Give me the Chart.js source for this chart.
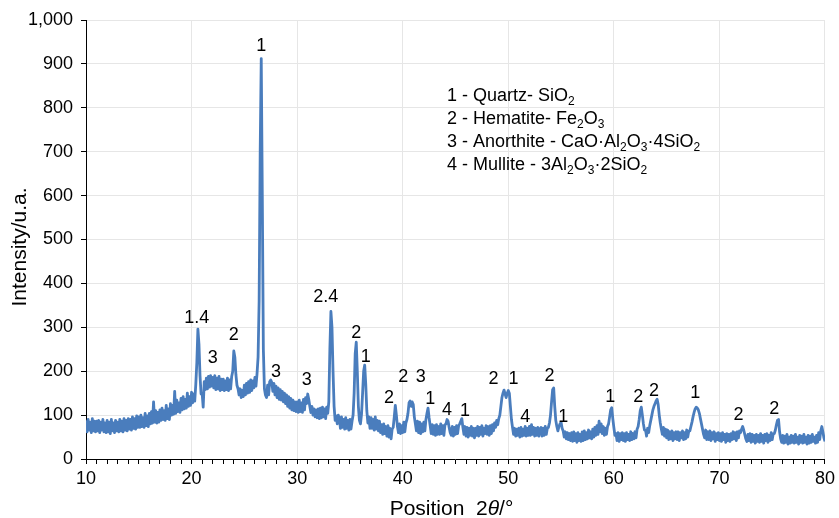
<!DOCTYPE html>
<html>
<head>
<meta charset="utf-8">
<script src="https://cdn.jsdelivr.net/npm/chart.js@4.4.1/dist/chart.umd.min.js"></script>
<style>
  html, body { margin: 0; padding: 0; background: #fff; }
  #wrap { width: 839px; height: 518px; }
</style>
</head>
<body>
<div id="wrap"><canvas id="xrdChart" width="839" height="518"></canvas></div>
<script>
// measurement grid (2theta, degrees)
const angleStart = 10;
const angleStep = 0.1;

// intensity, one row per degree (x.0 ... x.9)
const intensity = [
    88, 62, 90, 66, 84, 60, 92, 64, 86, 62,             // 10
    86, 64, 88, 60, 84, 66, 90, 62, 82, 60,             // 11
    88, 62, 84, 58, 90, 64, 82, 60, 88, 64,             // 12
    84, 62, 90, 64, 86, 62, 92, 66, 88, 64,             // 13
    92, 68, 90, 66, 96, 70, 92, 68, 98, 72,             // 14
    96, 72, 100, 74, 94, 72, 104, 76, 98, 74,           // 15
    104, 80, 108, 82, 130, 84, 110, 82, 106, 84,        // 16
    112, 88, 116, 90, 110, 88, 122, 92, 114, 90,        // 17
    126, 100, 122, 102, 154, 104, 134, 108, 128, 106,   // 18
    138, 112, 142, 114, 136, 116, 150, 120, 142, 122,   // 19
    152, 128, 148, 132, 170, 220, 296, 262, 190, 148,   // 20
    150, 118, 176, 158, 184, 160, 188, 164, 190, 166,   // 21
    186, 162, 190, 158, 184, 160, 188, 156, 182, 158,   // 22
    182, 156, 178, 158, 184, 156, 180, 160, 188, 200,   // 23
    246, 232, 192, 168, 160, 146, 160, 140, 156, 142,   // 24
    168, 146, 172, 150, 176, 152, 180, 156, 178, 162,   // 25
    186, 166, 194, 232, 360, 700, 912, 600, 250, 160,   // 26
    146, 140, 168, 146, 176, 180, 174, 154, 172, 146,   // 27
    166, 140, 162, 136, 158, 134, 154, 130, 150, 126,   // 28
    146, 120, 142, 116, 138, 112, 134, 110, 130, 108,   // 29
    130, 106, 134, 108, 128, 106, 136, 112, 140, 126,   // 30
    148, 136, 120, 106, 120, 100, 114, 96, 112, 94,     // 31
    114, 92, 116, 94, 118, 96, 114, 92, 118, 104,       // 32
    130, 250, 336, 300, 200, 120, 88, 98, 80, 100,      // 33
    92, 70, 96, 72, 90, 68, 94, 70, 88, 66,             // 34
    90, 68, 86, 100, 150, 240, 266, 200, 120, 88,       // 35
    80, 102, 150, 200, 214, 170, 110, 82, 96, 70,       // 36
    94, 70, 90, 66, 96, 68, 88, 64, 86, 60,             // 37
    78, 56, 80, 58, 74, 52, 76, 50, 70, 46,             // 38
    68, 72, 96, 122, 100, 74, 60, 80, 58, 76,           // 39
    60, 84, 62, 82, 90, 104, 128, 132, 120, 130,        // 40
    124, 96, 80, 64, 86, 60, 84, 58, 80, 62,            // 41
    84, 64, 90, 104, 116, 94, 76, 58, 78, 56,           // 42
    76, 54, 78, 56, 74, 56, 80, 58, 76, 54,             // 43
    78, 80, 90, 86, 72, 60, 54, 74, 52, 72,             // 44
    56, 76, 58, 76, 80, 86, 92, 72, 56, 74,             // 45
    52, 72, 50, 70, 54, 74, 52, 70, 48, 70,             // 46
    54, 74, 52, 72, 56, 76, 52, 70, 58, 76,             // 47
    56, 74, 54, 76, 58, 78, 64, 82, 72, 88,             // 48
    78, 92, 100, 120, 140, 150, 157, 148, 140, 150,     // 49
    156, 150, 120, 90, 72, 56, 70, 52, 68, 54,          // 50
    70, 50, 72, 52, 68, 54, 74, 52, 70, 54,             // 51
    74, 54, 78, 56, 72, 52, 70, 54, 72, 52,             // 52
    68, 72, 52, 70, 54, 74, 56, 70, 72, 82,             // 53
    100, 130, 158, 162, 120, 88, 74, 64, 74, 80,        // 54
    84, 70, 64, 50, 62, 46, 60, 44, 58, 42,             // 55
    60, 40, 62, 42, 58, 38, 60, 42, 56, 40,             // 56
    62, 42, 64, 44, 60, 46, 66, 48, 62, 46,             // 57
    68, 50, 72, 54, 76, 56, 86, 62, 80, 58,             // 58
    74, 54, 70, 56, 74, 80, 96, 112, 117, 92,           // 59
    72, 54, 58, 42, 60, 40, 58, 44, 60, 42,             // 60
    58, 40, 60, 44, 56, 42, 62, 44, 58, 46,             // 61
    62, 48, 68, 74, 90, 110, 118, 100, 80, 66,          // 62
    66, 52, 70, 60, 76, 88, 100, 112, 120, 126,         // 63
    132, 136, 124, 100, 82, 68, 56, 72, 52, 68,         // 64
    48, 66, 44, 62, 46, 64, 42, 60, 46, 62,             // 65
    44, 62, 42, 60, 48, 64, 44, 60, 46, 66,             // 66
    50, 64, 64, 74, 84, 96, 106, 114, 118, 116,         // 67
    112, 104, 92, 80, 68, 56, 48, 66, 44, 62,           // 68
    44, 64, 42, 60, 46, 62, 40, 58, 44, 60,             // 69
    42, 58, 40, 60, 44, 56, 38, 58, 42, 56,             // 70
    40, 58, 44, 62, 46, 60, 42, 62, 48, 64,             // 71
    60, 68, 74, 66, 56, 46, 40, 56, 42, 58,             // 72
    38, 56, 40, 54, 36, 56, 40, 54, 38, 58,             // 73
    40, 54, 36, 56, 42, 58, 38, 54, 42, 60,             // 74
    44, 58, 58, 66, 78, 88, 90, 62, 46, 38,             // 75
    54, 36, 52, 38, 56, 34, 50, 36, 54, 38,             // 76
    52, 36, 56, 38, 50, 34, 54, 38, 52, 36,             // 77
    56, 38, 50, 34, 54, 36, 52, 38, 56, 40,             // 78
    50, 36, 54, 38, 60, 44, 64, 74, 62, 48,             // 79
    40                                                  // 80
];

// phase labels over the peaks
const peakText  = ['1', '1.4', '3', '2', '3', '3', '2.4', '2', '1', '2', '2', '3', '1', '4', '1',
                   '2', '1', '4', '2', '1', '1', '2', '2', '1', '2', '2'];
const peakAngle = [26.6, 20.5, 22.0, 24.0, 28.0, 30.9, 32.7, 35.6, 36.5, 38.7, 40.05, 41.7, 42.6, 44.2, 45.9,
                   48.6, 50.5, 51.6, 53.9, 55.2, 59.65, 62.3, 63.8, 67.7, 71.8, 75.2];
const peakHeight = [941, 321, 230, 282, 198, 180, 369, 287, 232, 139, 187, 187, 137, 112, 109,
                    182, 182, 96, 189, 96, 141, 141, 155, 150, 100, 114];

// phase key, [text, subscript?]
const phaseKey = [
    [['1 - Quartz- SiO'], ['2', 1]],
    [['2 - Hematite- Fe'], ['2', 1], ['O'], ['3', 1]],
    [['3 - Anorthite - CaO\u00b7Al'], ['2', 1], ['O'], ['3', 1], ['\u00b74SiO'], ['2', 1]],
    [['4 - Mullite - 3Al'], ['2', 1], ['O'], ['3', 1], ['\u00b72SiO'], ['2', 1]]
];

const FONT = '"Liberation Sans", Arial, Helvetica, sans-serif';
const lineColor = '#4a7dbd';

(() => {
    const ctx = document.getElementById('xrdChart').getContext('2d');
    const points = intensity.map((v, i) => ({ x: angleStart + i * angleStep, y: v }));

    const textPlugin = {
        id: 'xrdText',
        afterDatasetsDraw(chart) {
            const { ctx, chartArea, scales: { x, y } } = chart;
            ctx.save();
            ctx.fillStyle = '#000';

            // peak labels
            ctx.font = '18px ' + FONT;
            ctx.textAlign = 'center';
            ctx.textBaseline = 'middle';
            peakText.forEach((t, i) => {
                ctx.fillText(t, x.getPixelForValue(peakAngle[i]), y.getPixelForValue(peakHeight[i]));
            });

            // phase key
            ctx.textAlign = 'left';
            ctx.textBaseline = 'alphabetic';
            phaseKey.forEach((line, i) => {
                let px = chartArea.left + 361;
                const py = chartArea.top + 81 + i * 23;
                line.forEach(([s, sub]) => {
                    ctx.font = (sub ? '12px ' : '18px ') + FONT;
                    ctx.fillText(s, px, sub ? py + 4 : py);
                    px += ctx.measureText(s).width;
                });
            });

            // x title with italic theta
            const parts = [['Position  2', ''], ['\u03b8', 'italic '], ['/\u00b0', '']];
            let total = 0;
            parts.forEach(([s, st]) => { ctx.font = st + '21px ' + FONT; total += ctx.measureText(s).width; });
            let tx = (chartArea.left + chartArea.right) / 2 - total / 2 - 4;
            parts.forEach(([s, st]) => {
                ctx.font = st + '21px ' + FONT;
                ctx.fillText(s, tx, 515);
                tx += ctx.measureText(s).width;
            });

            // y title
            ctx.translate(20, 247);
            ctx.rotate(-Math.PI / 2);
            ctx.textAlign = 'center';
            ctx.textBaseline = 'middle';
            ctx.font = '21px ' + FONT;
            ctx.fillText('Intensity/u.a.', 0, 0);
            ctx.restore();
        }
    };

    new Chart(ctx, {
        type: 'line',
        data: {
            datasets: [{
                data: points,
                borderColor: lineColor,
                borderWidth: 2.8,
                borderJoinStyle: 'round',
                pointRadius: 0,
                tension: 0,
                fill: false
            }]
        },
        options: {
            responsive: false,
            devicePixelRatio: 1,
            animation: false,
            parsing: false,
            layout: { padding: { top: 20, right: 10, left: 0, bottom: 0 } },
            plugins: { legend: { display: false }, tooltip: { enabled: false } },
            scales: {
                x: {
                    type: 'linear',
                    min: 10,
                    max: 80,
                    afterFit: s => { s.height = 59; },
                    border: { color: '#000', width: 1 },
                    grid: {
                        color: c => (c.tick && c.tick.value % 10 === 0 ? '#e6e6e6' : 'rgba(0,0,0,0)'),
                        tickColor: '#000',
                        tickLength: 5
                    },
                    ticks: {
                        stepSize: 1,
                        autoSkip: false,
                        maxRotation: 0,
                        padding: 4,
                        color: '#000',
                        font: { size: 18, family: FONT },
                        callback: v => (v % 10 === 0 ? String(v) : '')
                    }
                },
                y: {
                    min: 0,
                    max: 1000,
                    afterFit: s => { s.width = 86; },
                    border: { color: '#000', width: 1 },
                    grid: { color: '#e6e6e6', tickColor: '#000', tickLength: 5 },
                    ticks: {
                        stepSize: 100,
                        padding: 8,
                        color: '#000',
                        font: { size: 18, family: FONT },
                        callback: v => v.toLocaleString('en-US')
                    }
                }
            }
        },
        plugins: [textPlugin]
    });
})();
</script>
</body>
</html>
